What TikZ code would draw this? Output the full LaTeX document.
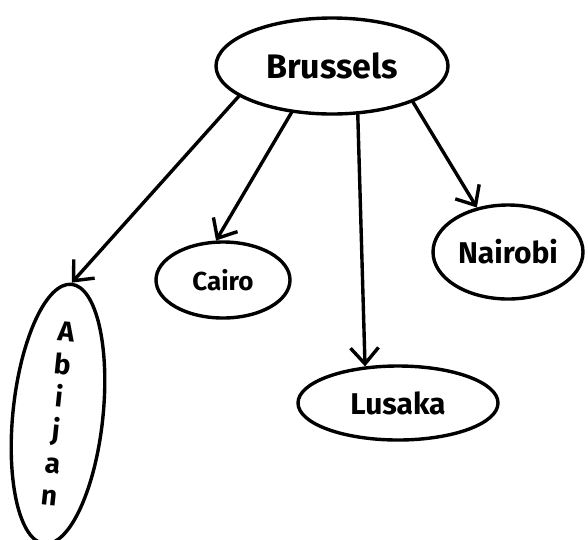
\documentclass[tikz,border=0pt]{standalone}
\usepackage{fontspec}
\setmainfont{Fira Sans}
\usetikzlibrary{shapes.geometric}
\usetikzlibrary{arrows.meta}

\tikzstyle{city} = [draw=black, ellipse, line width=3.4pt, inner sep=0pt,
font=\fontsize{30}{34}\selectfont\bfseries]
\tikzstyle{link} = [draw=black, line width=3.4pt, line cap=round,
-{Straight Barb[length=16pt, width=28pt, line width=3.4pt]}]

\begin{document}
\begin{tikzpicture}[x=1pt, y=-1pt]
        \useasboundingbox[fill=white] (0,0) rectangle (588,539);
        \node [city, minimum width=232pt, minimum height=96pt,
            font=\fontsize{34}{38}\selectfont\bfseries] (bru) at (332,66) {Brussels};
        \node [city, minimum width=134pt, minimum height=76pt,
            font=\fontsize{26}{30}\selectfont\bfseries] (cai) at (223,280) {Cairo};
        \node [city, minimum width=150pt, minimum height=94pt] (nai) at (508,252) {Nairobi};
        \node [city, minimum width=200pt, minimum height=74pt] (lus) at (398,403) {Lusaka};
        \node [city, minimum width=90pt, minimum height=226pt, align=center, rotate=-6,
            font=\fontsize{28}{33}\selectfont\bfseries] (abi) at (58,414) {A\\b\\i\\j\\a\\n};
        \draw [link] (bru.198) -- (abi.north);
        \draw [link] (bru.229) -- (cai.100);
        \draw [link] (bru.298) -- (lus.132);
        \draw [link] (bru.336) -- (nai.125);
    \end{tikzpicture}
\end{document}
